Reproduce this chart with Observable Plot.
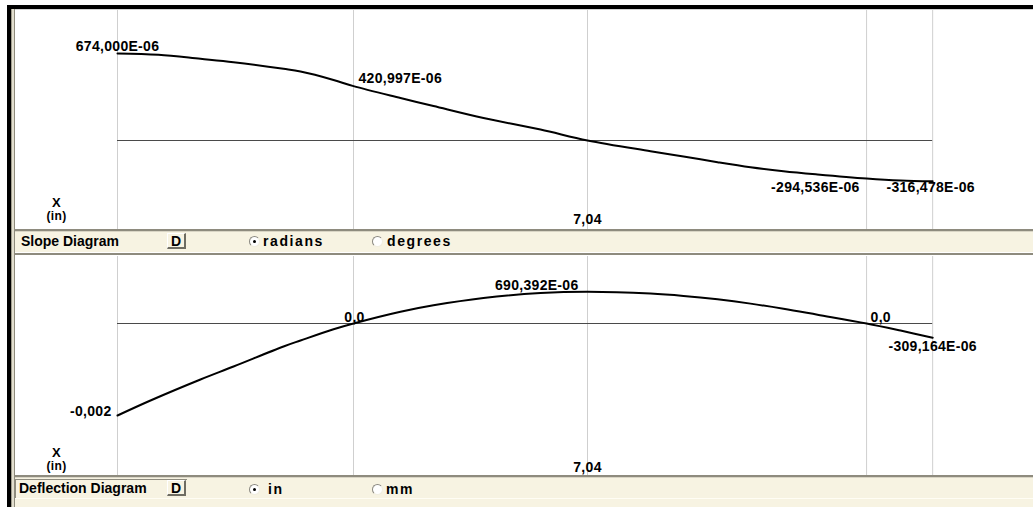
<!DOCTYPE html>
<html>
<head>
<meta charset="utf-8">
<script src="https://cdn.jsdelivr.net/npm/d3@7"></script>
<script src="https://cdn.jsdelivr.net/npm/@observablehq/plot@0.6"></script>
<style>
  body { margin: 0; background: #fff; }
  #root { position: relative; width: 1033px; height: 507px; overflow: hidden; background: #fff;
          font-family: "Liberation Sans", Arial, sans-serif; font-weight: bold; font-size: 14px; color: #000; }
  .abs { position: absolute; }
  svg text { letter-spacing: 0.3px; }
  .strip { position: absolute; left: 15px; width: 1018px; background: #f7f3e2; }
  .lbl { position: absolute; white-space: nowrap; line-height: 15px; }
  .rlbl { position: absolute; white-space: nowrap; line-height: 15px; letter-spacing: 1.6px; }
  .btn { position: absolute; width: 19px; height: 16px; box-sizing: border-box; text-align: center; line-height: 14px;
         border-top: 1px solid #fff; border-left: 1px solid #fff; border-right: 2px solid #6e6c62; border-bottom: 2px solid #6e6c62;
         background: #f7f3e2; }
  .radio { position: absolute; width: 11px; height: 11px; box-sizing: border-box; border-radius: 50%; background: #fff;
           border-top: 1px solid #8a8880; border-left: 1px solid #8a8880; border-right: 1px solid #f0ede0; border-bottom: 1px solid #f0ede0; }
  .radio.on::after { content: ""; position: absolute; left: 3px; top: 3px; width: 3px; height: 3px; border-radius: 50%; background: #000; }
</style>
</head>
<body>
<div id="root"></div>
<script>
// ---------- data ----------
const gridX = [0, 3.535, 7.04, 11.22, 12.21];
const beamEnd = 12.21;
const tickX = [7.04];
const tickText = ["7,04"];

const slopeX = [0, 0.614, 1.243, 1.738, 2.487, 2.741, 3.236, 3.535, 4.239, 4.733, 5.482, 6.336, 7.04, 7.984, 8.478, 8.988, 9.482, 9.976, 10.485, 11.22, 11.729, 12.21];
const slopeY = [674e-6, 664e-6, 633e-6, 607e-6, 555e-6, 534e-6, 469e-6, 420.997e-6, 329e-6, 267e-6, 174e-6, 85e-6, 0, -83e-6, -124e-6, -168e-6, -207e-6, -238e-6, -263e-6, -294.536e-6, -310e-6, -316.478e-6];

const defX = [0, 0.494, 1.243, 1.738, 2.487, 2.741, 3.236, 3.535, 4.239, 4.733, 5.482, 6.336, 7.04, 7.984, 8.478, 8.988, 9.482, 9.976, 10.485, 11.22, 11.729, 12.21];
const defY = [-0.002, -1674e-6, -1217e-6, -935e-6, -500e-6, -370e-6, -125e-6, 0, 255e-6, 395e-6, 555e-6, 662e-6, 690.392e-6, 651e-6, 600e-6, 525e-6, 432e-6, 320e-6, 190e-6, 0, -154e-6, -309.164e-6];

const slopeLblX = [0, 3.535, 11.22, 12.21];
const slopeLblY = [674e-6, 420.997e-6, -294.536e-6, -316.478e-6];
const slopeLblT = ["674,000E-06", "420,997E-06", "-294,536E-06", "-316,478E-06"];

const defLblX = [0, 3.535, 7.04, 11.22, 12.21];
const defLblY = [-0.002, 0, 690.392e-6, 0, -309.164e-6];
const defLblT = ["-0,002", "0,0", "690,392E-06", "0,0", "-309,164E-06"];

// ---------- helpers ----------
const root = document.getElementById("root");
function div(cls, css, text) {
  const d = document.createElement("div");
  if (cls) d.className = cls;
  d.style.cssText = css;
  if (text != null) d.textContent = text;
  root.appendChild(d);
  return d;
}

function labelMark(X, Y, T, i, o) {
  return Plot.text([i], {
    x: k => X[k], y: k => Y[k], text: k => T[k],
    textAnchor: o.ta, lineAnchor: o.la, dx: o.dx, dy: o.dy,
    fill: "black", fontWeight: "bold"
  });
}

function panel(X, Y, yDomain, yRange, labelMarks, tickDy, xLblDy, inLblDy) {
  return Plot.plot({
    width: 1017, height: 219,
    marginTop: 0, marginRight: 0, marginBottom: 0, marginLeft: 0,
    x: { domain: [0, 7.04], range: [101, 571], axis: null },
    y: { domain: yDomain, range: yRange, axis: null },
    style: { background: "white", fontFamily: '"Liberation Sans", Arial, sans-serif', fontSize: "14px", overflow: "visible" },
    marks: [
      Plot.ruleX(gridX, { stroke: "#cfcfcf", strokeWidth: 1 }),
      Plot.ruleY([0], { x1: 0, x2: beamEnd, stroke: "#4a4a4a", strokeWidth: 1 }),
      Plot.line(X.map((x, i) => i), { x: i => X[i], y: i => Y[i], stroke: "black", strokeWidth: 2, curve: "catmull-rom", strokeLinejoin: "round" }),
      ...labelMarks,
      Plot.text(tickX, { x: d => d, text: (d, i) => tickText[i], frameAnchor: "bottom", lineAnchor: "bottom", dy: tickDy, fill: "black", fontWeight: "bold" }),
      Plot.text(["X"], { frameAnchor: "bottom-left", textAnchor: "middle", lineAnchor: "bottom", dx: 40, dy: xLblDy, fill: "black", fontWeight: "bold", fontSize: 13 }),
      Plot.text(["(in)"], { frameAnchor: "bottom-left", textAnchor: "middle", lineAnchor: "bottom", dx: 40, dy: inLblDy, fill: "black", fontWeight: "bold", fontSize: 12 })
    ]
  });
}

// ---------- frame ----------
div("abs", "left:7px;top:5px;width:1026px;height:4px;background:#000;");
div("abs", "left:7px;top:5px;width:4px;height:502px;background:#000;");
div("abs", "left:11px;top:9px;width:4px;height:498px;background:linear-gradient(to right,#a19e8e 0,#a19e8e 1px,#e2dece 1px,#e2dece 3px,#8e8b7c 3px,#8e8b7c 4px);");
div("abs", "left:15px;top:9px;width:1018px;height:1px;background:#d4d4d4;");

// ---------- slope panel ----------
const slopeLabels = [
  labelMark(slopeLblX, slopeLblY, slopeLblT, 0, { ta: "middle", la: "bottom", dx: 0, dy: -3 }),
  labelMark(slopeLblX, slopeLblY, slopeLblT, 1, { ta: "start", la: "bottom", dx: 5, dy: -3 }),
  labelMark(slopeLblX, slopeLblY, slopeLblT, 2, { ta: "end", la: "top", dx: -7, dy: 4 }),
  labelMark(slopeLblX, slopeLblY, slopeLblT, 3, { ta: "middle", la: "top", dx: -2, dy: 1 })
];
const p1 = panel(slopeX, slopeY, [0, 674e-6], [130, 43], slopeLabels, -6, -23, -10);
p1.style.position = "absolute"; p1.style.left = "16px"; p1.style.top = "10px";
root.appendChild(p1);

// ---------- deflection panel ----------
const defLabels = [
  labelMark(defLblX, defLblY, defLblT, 0, { ta: "end", la: "bottom", dx: -6, dy: 0 }),
  labelMark(defLblX, defLblY, defLblT, 1, { ta: "middle", la: "bottom", dx: 1, dy: -2 }),
  labelMark(defLblX, defLblY, defLblT, 2, { ta: "end", la: "bottom", dx: -9, dy: -2 }),
  labelMark(defLblX, defLblY, defLblT, 3, { ta: "start", la: "bottom", dx: 4, dy: -2 }),
  labelMark(defLblX, defLblY, defLblT, 4, { ta: "middle", la: "top", dx: 0, dy: 3 })
];
const p2 = panel(defX, defY, [-0.002, 0], [159, 67], defLabels, -4, -19, -6);
p2.style.position = "absolute"; p2.style.left = "16px"; p2.style.top = "256px";
root.appendChild(p2);

// ---------- strips ----------
div("strip", "top:229px;height:26px;box-sizing:border-box;border-top:2px solid #8e8b7e;border-bottom:2px solid #8e8b7e;");
div("abs", "left:15px;top:231px;width:1018px;height:1px;background:#d9d5c5;");
div("abs", "left:15px;top:252px;width:1018px;height:1px;background:#ffffff;");
div("lbl", "left:21px;top:234px;", "Slope Diagram");
div("btn", "left:167px;top:233px;", "D");
div("radio on", "left:249px;top:236px;");
div("rlbl", "left:263px;top:234px;", "radians");
div("radio", "left:372px;top:236px;");
div("rlbl", "left:387px;top:234px;", "degrees");

div("strip", "top:475px;height:32px;box-sizing:border-box;border-top:2px solid #8e8b7e;");
div("abs", "left:15px;top:477px;width:1018px;height:1px;background:#d9d5c5;");
div("abs", "left:15px;top:498px;width:1018px;height:1px;background:#fffdf4;");
div("abs", "left:15px;top:479px;width:172px;height:19px;box-sizing:border-box;border-left:1px solid #8e8b7e;border-top:1px solid #8e8b7e;");
div("lbl", "left:19px;top:481px;", "Deflection Diagram");
div("btn", "left:167px;top:480px;", "D");
div("radio on", "left:249px;top:484px;");
div("rlbl", "left:268px;top:482px;", "in");
div("radio", "left:372px;top:484px;");
div("rlbl", "left:386px;top:482px;", "mm");
</script>
</body>
</html>
